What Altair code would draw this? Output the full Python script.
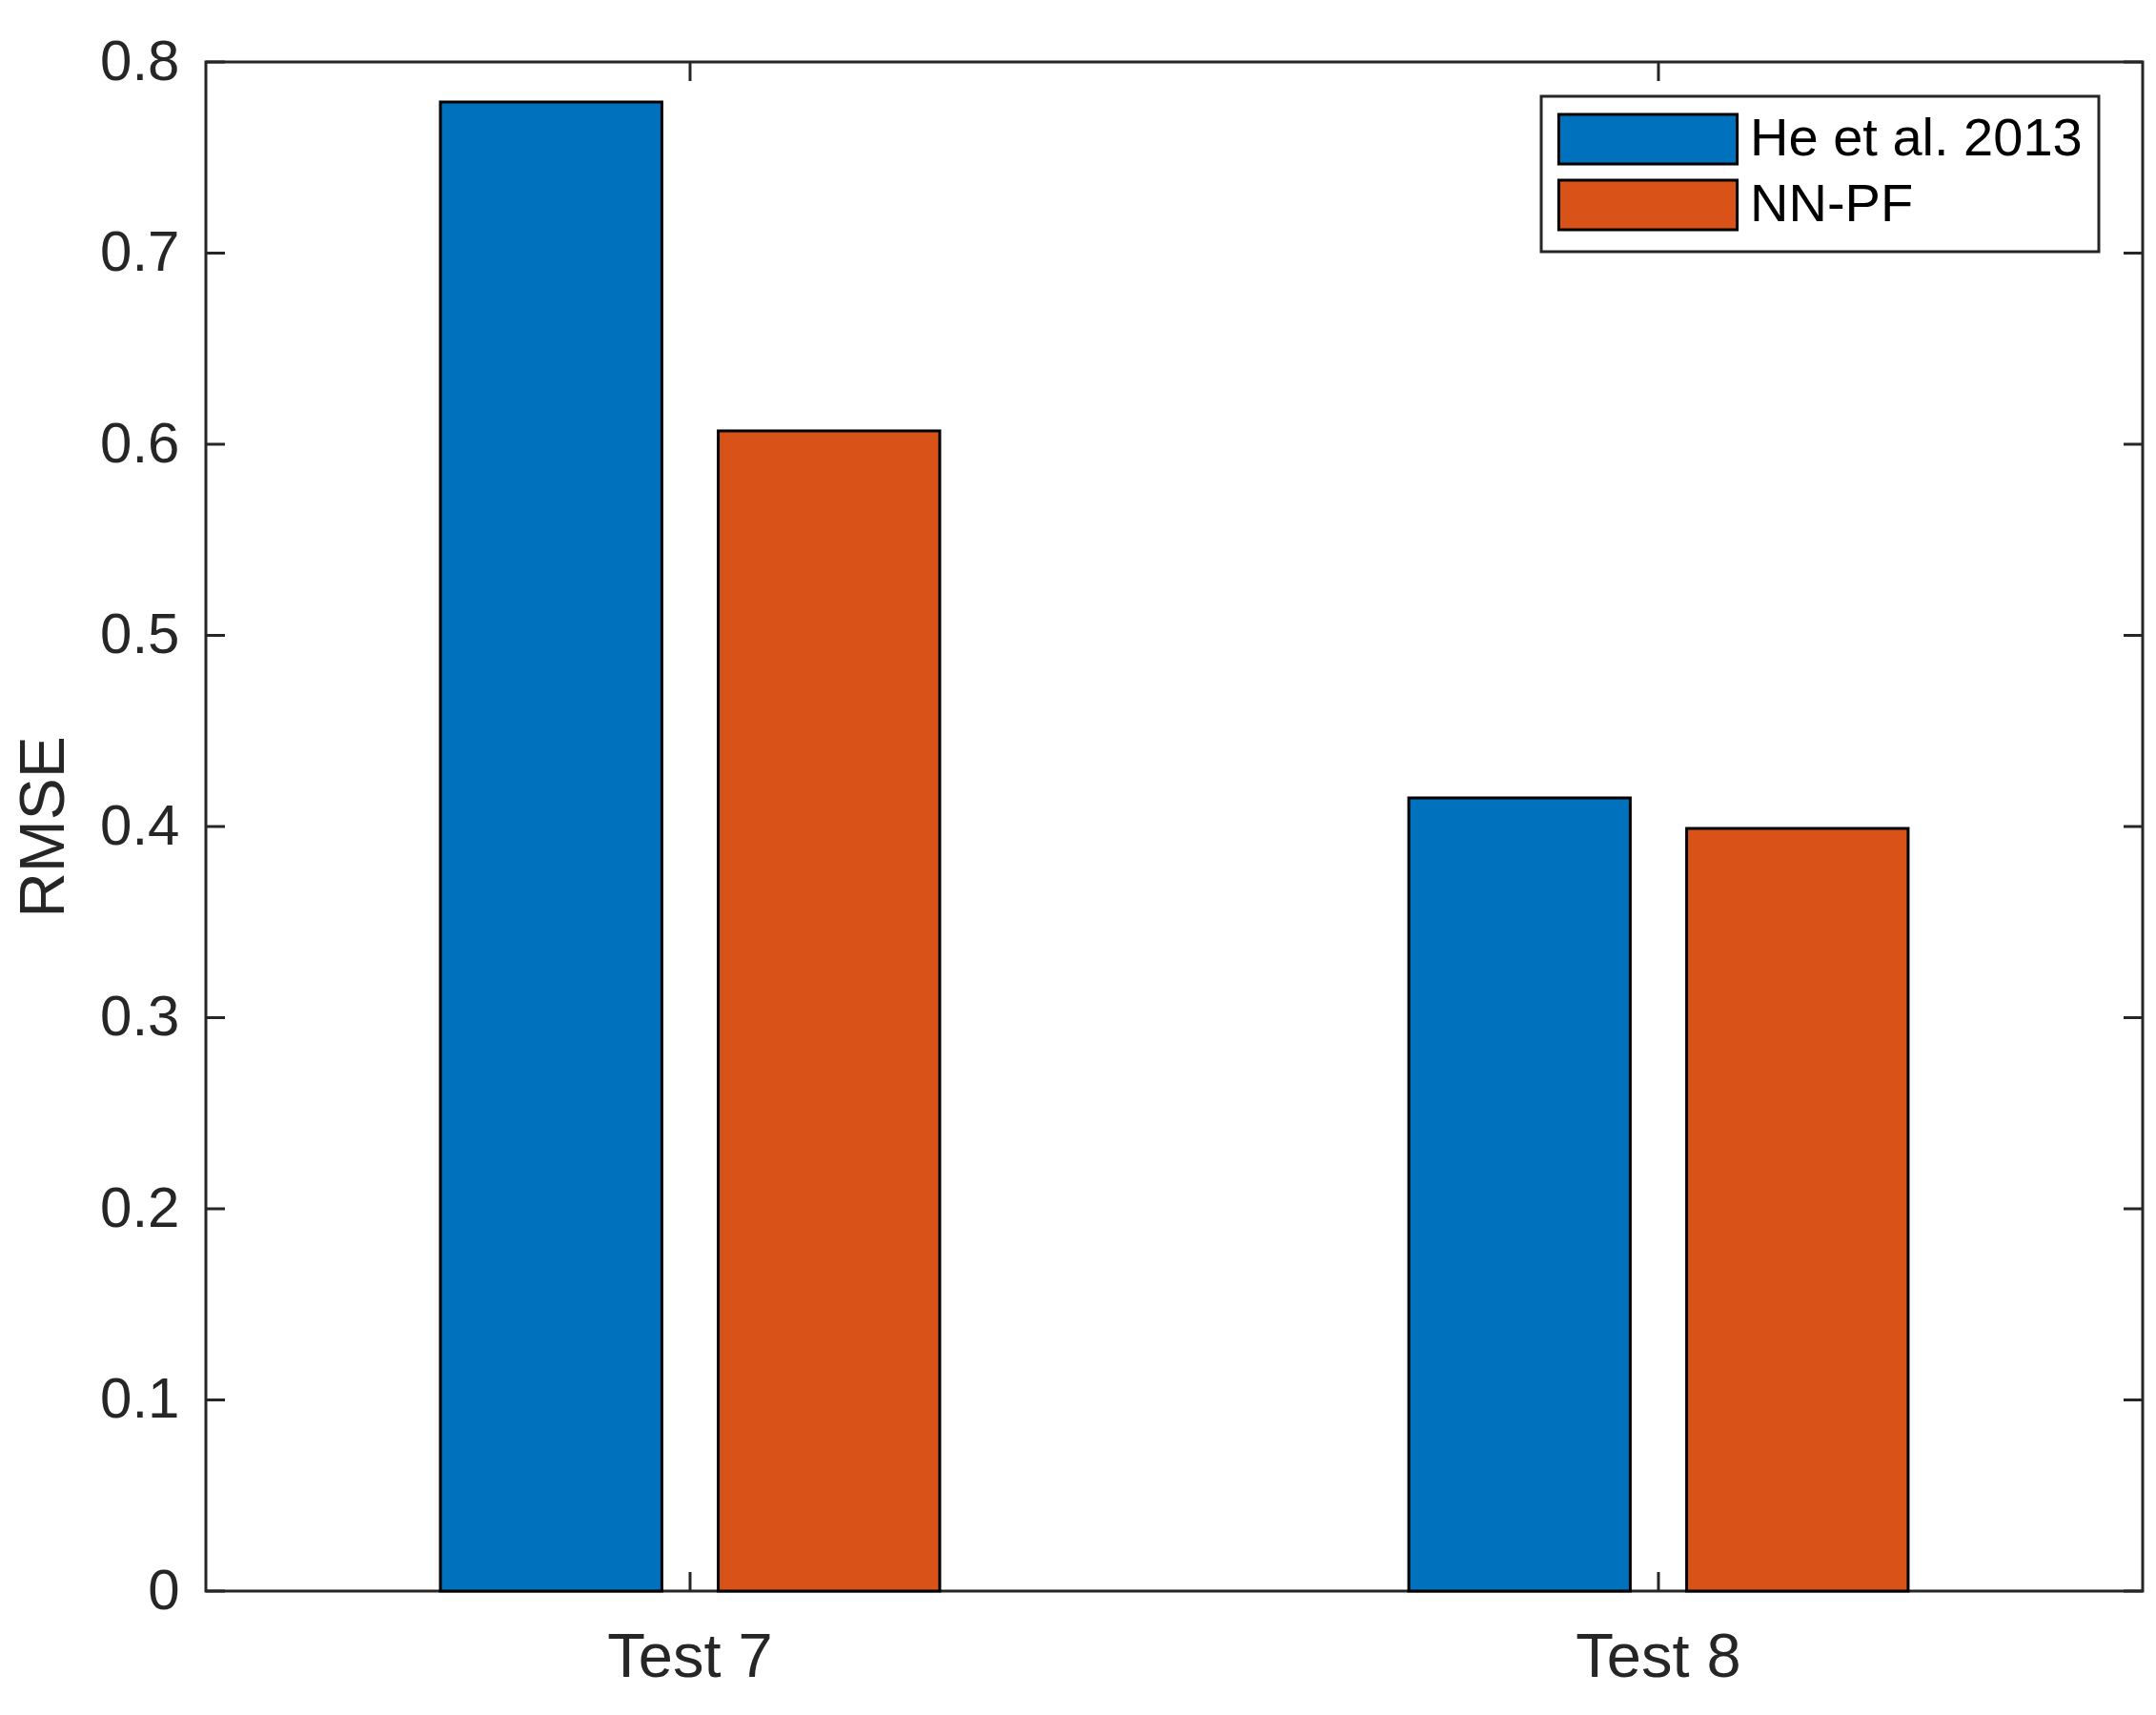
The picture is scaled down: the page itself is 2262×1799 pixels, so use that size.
import altair as alt
import pandas as pd

categories = ["Test 7", "Test 8"]
series = ["He et al. 2013", "NN-PF"]
he_values = [0.779, 0.415]
nnpf_values = [0.607, 0.399]
y_ticks = [0, 0.1, 0.2, 0.3, 0.4, 0.5, 0.6, 0.7, 0.8]
colors = ["#0072BD", "#D95319"]

rows = []
for i, c in enumerate(categories):
    rows.append({"category": c, "method": series[0], "rmse": he_values[i]})
    rows.append({"category": c, "method": series[1], "rmse": nnpf_values[i]})
df = pd.DataFrame(rows)
cat_df = pd.DataFrame({"category": categories})
ytick_df = pd.DataFrame({"v": y_ticks})

W, H = 2032, 1604
FONT = "Liberation Sans"
AX = "#262626"
TL = 20

x_enc = alt.X(
    "category:N",
    sort=categories,
    scale=alt.Scale(paddingInner=0, paddingOuter=0),
    axis=alt.Axis(labelAngle=0, ticks=False, domain=False, title=None,
                  labelFontSize=65, labelFont=FONT, labelColor=AX,
                  labelPadding=38, grid=False),
)
y_scale = alt.Scale(domain=[0, 0.8], nice=False)

bars = alt.Chart(df).mark_bar(stroke="black", strokeWidth=3, opacity=1).encode(
    x=x_enc,
    xOffset=alt.XOffset("method:N", sort=series,
                        scale=alt.Scale(paddingInner=0.203, paddingOuter=0.844)),
    y=alt.Y("rmse:Q", scale=y_scale,
            axis=alt.Axis(values=y_ticks, format=".1~f", ticks=False, domain=False,
                          grid=False, labelFontSize=60, labelFont=FONT, labelColor=AX,
                          labelPadding=28, title="RMSE", titleFontSize=66,
                          titleFont=FONT, titleFontWeight="normal", titleColor=AX,
                          titlePadding=24)),
    color=alt.Color("method:N", scale=alt.Scale(domain=series, range=colors),
                    legend=alt.Legend(
                        title=None, orient="none", legendX=1401, legendY=36,
                        symbolType="M-3.6,-1H3.6V1H-3.6Z", symbolSize=2704,
                        symbolOffset=67,
                        symbolStrokeColor="black", symbolStrokeWidth=3,
                        symbolOpacity=1,
                        labelFontSize=56, labelFont=FONT, labelColor="black",
                        labelLimit=2000,
                        labelOffset=79, rowPadding=5, padding=17,
                        strokeColor=AX, fillColor="white")),
)

xt_bottom = alt.Chart(cat_df).mark_rule(color=AX, strokeWidth=3).encode(
    x=alt.X("category:N", sort=categories), y=alt.value(H), y2=alt.value(H - TL))
xt_top = alt.Chart(cat_df).mark_rule(color=AX, strokeWidth=3).encode(
    x=alt.X("category:N", sort=categories), y=alt.value(0), y2=alt.value(TL))
yt_left = alt.Chart(ytick_df).mark_rule(color=AX, strokeWidth=3).encode(
    y=alt.Y("v:Q", scale=y_scale), x=alt.value(0), x2=alt.value(TL))
yt_right = alt.Chart(ytick_df).mark_rule(color=AX, strokeWidth=3).encode(
    y=alt.Y("v:Q", scale=y_scale), x=alt.value(W - TL), x2=alt.value(W))

chart = alt.layer(bars, xt_bottom, xt_top, yt_left, yt_right).properties(
    width=W, height=H,
    autosize=alt.AutoSizeParams(type="none"),
    padding={"left": 208, "top": 57, "right": 6, "bottom": 122},
    background="white",
).configure_view(stroke=AX, strokeWidth=3).configure_legend(strokeWidth=3)

chart.save("out.html", embed_options={"renderer": "svg", "actions": False})
